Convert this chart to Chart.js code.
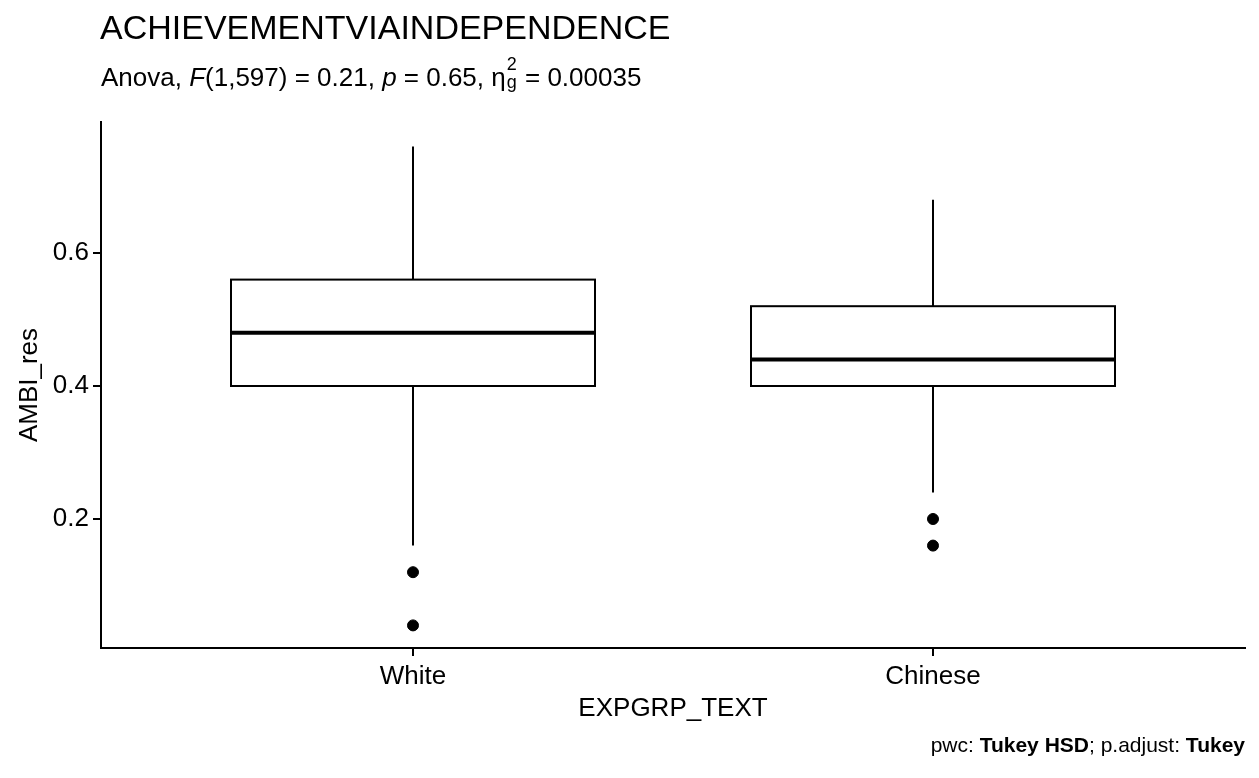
<!DOCTYPE html>
<html><head><meta charset="utf-8">
<script src="https://cdn.jsdelivr.net/npm/chart.js@4"></script>
<style>
body{margin:0;background:#fff;font-family:"Liberation Sans",Arial,sans-serif;}
#wrap{position:relative;width:1259px;height:778px;}
canvas{position:absolute;left:0;top:0;}
.t{position:absolute;color:#000;white-space:nowrap;}
.ss{display:inline-block;position:relative;width:12px;height:10px;font-size:18px;}
.ss span{position:absolute;left:1px;}
</style></head><body>
<div id="wrap">
<canvas id="c" width="1259" height="778"></canvas>
<div class="t" style="left:100px;top:8px;font-size:34px;">ACHIEVEMENTVIAINDEPENDENCE</div>
<div class="t" style="left:101px;top:62px;font-size:26px;">Anova, <i>F</i>(1,597) = 0.21, <i>p</i> = 0.65, &eta;<span class="ss"><span style="top:-22px;">2</span><span style="top:-4px;">g</span></span> = 0.00035</div>
<div class="t" style="right:14px;top:733px;font-size:21px;">pwc: <b>Tukey HSD</b>; p.adjust: <b>Tukey</b></div>
</div>
<script>
// box stats
const groups = ['White', 'Chinese'];
const whiskerLow = [0.16, 0.24];
const q1 = [0.40, 0.40];
const median = [0.48, 0.44];
const q3 = [0.56, 0.52];
const whiskerHigh = [0.76, 0.68];
const outliers = [[0.12, 0.04], [0.20, 0.16]];
const yTicks = [0.2, 0.4, 0.6];

const outlierPts = [];
outliers.forEach((list, i) => list.forEach(v => outlierPts.push({x: i + 1, y: v})));

// draws the boxes and whiskers through the chart's scales
const boxPlugin = {
  id: 'boxes',
  beforeDatasetsDraw(chart) {
    const ctx = chart.ctx, x = chart.scales.x, y = chart.scales.y;
    const half = 0.35;
    ctx.save();
    ctx.strokeStyle = '#000';
    groups.forEach((g, i) => {
      const xc = x.getPixelForValue(i + 1);
      const xl = x.getPixelForValue(i + 1 - half), xr = x.getPixelForValue(i + 1 + half);
      ctx.lineWidth = 2;
      ctx.beginPath();
      ctx.moveTo(xc, y.getPixelForValue(whiskerHigh[i])); ctx.lineTo(xc, y.getPixelForValue(q3[i]));
      ctx.moveTo(xc, y.getPixelForValue(q1[i])); ctx.lineTo(xc, y.getPixelForValue(whiskerLow[i]));
      ctx.stroke();
      const top = y.getPixelForValue(q3[i]), bot = y.getPixelForValue(q1[i]);
      ctx.fillStyle = '#fff';
      ctx.fillRect(xl, top, xr - xl, bot - top);
      ctx.strokeRect(xl, top, xr - xl, bot - top);
      ctx.lineWidth = 4;
      ctx.beginPath();
      const m = y.getPixelForValue(median[i]);
      ctx.moveTo(xl, m); ctx.lineTo(xr, m);
      ctx.stroke();
    });
    ctx.restore();
  }
};

const tickFont = {family: '"Liberation Sans", Arial', size: 26};
new Chart(document.getElementById('c').getContext('2d'), {
  type: 'scatter',
  data: {datasets: [{data: outlierPts, backgroundColor: '#000', borderColor: '#000', pointRadius: 5.5}]},
  options: {
    responsive: false, animation: false,
    layout: {padding: {top: 122, right: 14, bottom: 50, left: 0}},
    plugins: {legend: {display: false}, tooltip: {enabled: false}},
    scales: {
      x: {
        type: 'linear', min: 0.4, max: 2.6,
        afterBuildTicks: s => { s.ticks = groups.map((g, i) => ({value: i + 1})); },
        afterFit: s => { s.height = 80; },
        ticks: {color: '#000', font: tickFont, padding: 5, callback: v => groups[v - 1]},
        grid: {drawOnChartArea: false, color: '#000', tickLength: 8, lineWidth: 2},
        border: {color: '#000', width: 2},
        title: {display: true, text: 'EXPGRP_TEXT', color: '#000', font: tickFont, padding: {top: 0, bottom: 4}}
      },
      y: {
        min: 0.006, max: 0.797,
        afterBuildTicks: s => { s.ticks = yTicks.map(v => ({value: v})); },
        afterFit: s => { s.width = 101; },
        ticks: {color: '#000', font: tickFont, padding: 4, callback: v => v.toFixed(1)},
        grid: {drawOnChartArea: false, color: '#000', tickLength: 8, lineWidth: 2},
        border: {color: '#000', width: 2},
        title: {display: true, text: 'AMBI_res', color: '#000', font: tickFont, padding: {top: 14, bottom: 0}}
      }
    }
  },
  plugins: [boxPlugin]
});
</script>
</body></html>
